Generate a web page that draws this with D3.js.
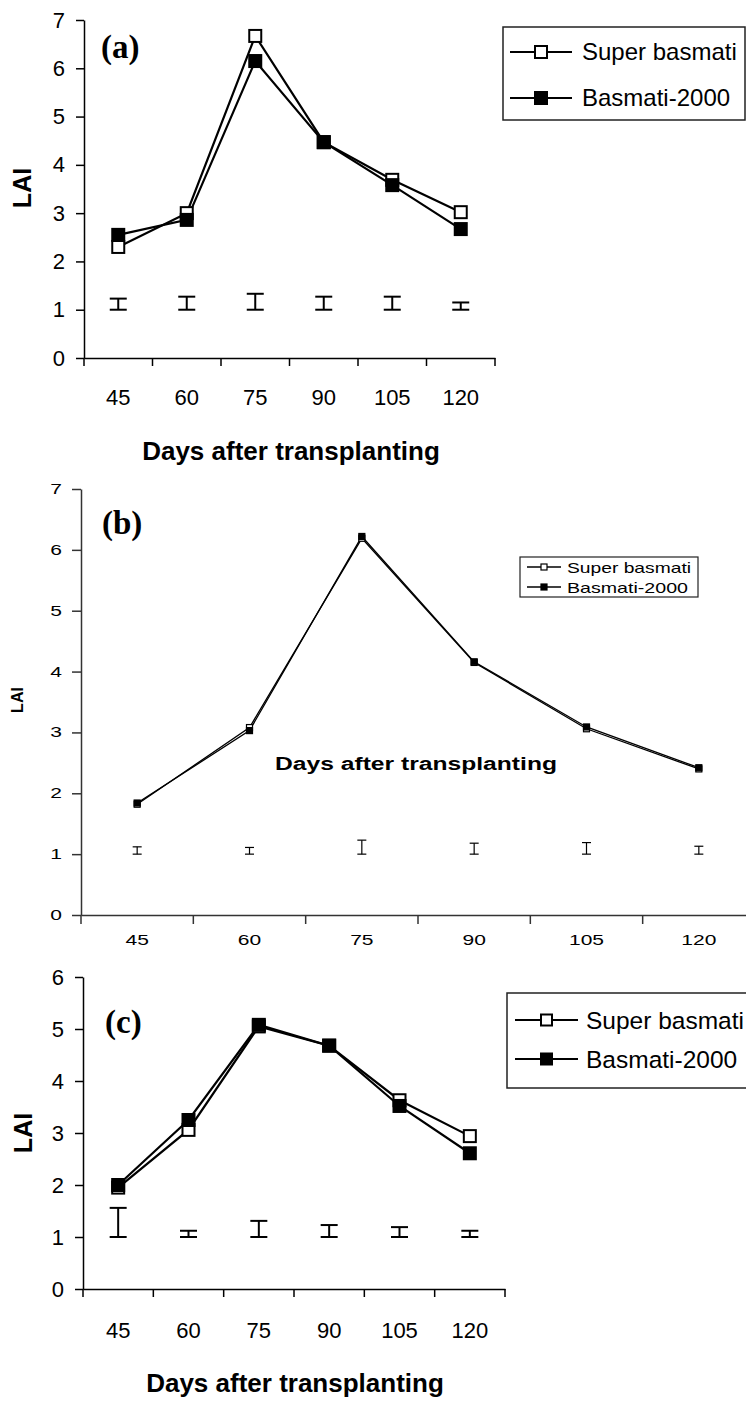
<!DOCTYPE html>
<html><head><meta charset="utf-8">
<script src="https://cdn.jsdelivr.net/npm/d3@7"></script>
<style>body{margin:0;background:#fff}svg{display:block}</style>
</head><body>
<svg id="chart" width="746" height="1402"></svg>
<script>
const days = ["45","60","75","90","105","120"];
const seriesNames = ["Super basmati","Basmati-2000"];
// Panel (a)
const aSuper = [2.30, 3.00, 6.67, 4.47, 3.69, 3.02];
const aB2000 = [2.55, 2.86, 6.15, 4.47, 3.58, 2.67];
const aLSD   = [0.23, 0.27, 0.33, 0.27, 0.27, 0.15];
const aTicks = [0,1,2,3,4,5,6,7];
// Panel (b)
const bSuper = [1.82, 3.08, 6.19, 4.15, 3.06, 2.40];
const bB2000 = [1.84, 3.03, 6.22, 4.16, 3.09, 2.42];
const bLSD   = [0.12, 0.11, 0.23, 0.18, 0.19, 0.13];
const bTicks = [0,1,2,3,4,5,6,7];
// Panel (c)
const cSuper = [1.95, 3.06, 5.05, 4.68, 3.63, 2.94];
const cB2000 = [2.00, 3.25, 5.08, 4.68, 3.52, 2.61];
const cLSD   = [0.56, 0.12, 0.31, 0.23, 0.19, 0.12];
const cTicks = [0,1,2,3,4,5,6];
const panelLabels = ["(a)","(b)","(c)"];
const xTitle = "Days after transplanting";
const yTitle = "LAI";

const svg = d3.select("#chart");
const SANS = "'Liberation Sans', Arial, sans-serif";
const SERIF = "'Liberation Serif', 'Times New Roman', serif";

function stretch(sel, k){
  sel.each(function(){
    const w = this.getComputedTextLength();
    d3.select(this).attr("textLength", w*k).attr("lengthAdjust","spacingAndGlyphs");
  });
}

function panel(cfg){
  const g = svg.append("g");
  const x = d3.scaleBand().domain(days).range([cfg.x0, cfg.x1]).padding(0);
  const y = d3.scaleLinear().domain([0, cfg.ymax]).range([cfg.y0, cfg.y1]);
  const bw = x.bandwidth();
  const cx = d => x(d) + bw/2;

  // y axis
  const ya = g.append("g").attr("transform", `translate(${cfg.x0},0)`)
    .call(d3.axisLeft(y).tickValues(cfg.ticks).tickFormat(d3.format("d")).tickSize(cfg.tick).tickSizeOuter(0).tickPadding(cfg.ypad));
  ya.select(".domain").attr("stroke", cfg.axisColor).attr("stroke-width", cfg.axisW);
  ya.selectAll(".tick line").attr("stroke", cfg.axisColor).attr("stroke-width", cfg.axisW);
  const yt = ya.selectAll(".tick text").attr("font-family", SANS).attr("font-size", cfg.tickFont).attr("fill","#000");
  if (cfg.stretchTick) stretch(yt, cfg.stretchTick);

  // x axis line + boundary ticks
  const xa = g.append("g").attr("transform", `translate(0,${cfg.y0})`)
    .call(d3.axisBottom(x).tickSize(0).tickSizeOuter(0).tickPadding(0));
  xa.select(".domain").attr("stroke", cfg.axisColor).attr("stroke-width", cfg.axisW);
  const xt = xa.selectAll(".tick text").attr("font-family", SANS).attr("font-size", cfg.tickFont)
    .attr("fill","#000").attr("y", cfg.xLabelDy).attr("dy", 0);
  if (cfg.stretchTick) stretch(xt, cfg.stretchTick);
  const bounds = days.map(d => x(d)).concat([cfg.x1]);
  g.selectAll(".bt").data(bounds).join("line")
    .attr("x1", d => d).attr("x2", d => d)
    .attr("y1", cfg.y0).attr("y2", cfg.y0 + cfg.tick)
    .attr("stroke", cfg.axisColor).attr("stroke-width", cfg.axisW);

  // LSD bars
  const eb = g.append("g").attr("stroke","#000").attr("stroke-width", cfg.ebW).attr("fill","none");
  cfg.lsd.forEach((v,i) => {
    const xc = cx(days[i]), yb = y(1), ytp = y(1+v);
    eb.append("line").attr("x1", xc).attr("x2", xc).attr("y1", yb).attr("y2", ytp);
    eb.append("line").attr("x1", xc-cfg.cap/2).attr("x2", xc+cfg.cap/2).attr("y1", yb).attr("y2", yb);
    eb.append("line").attr("x1", xc-cfg.cap/2).attr("x2", xc+cfg.cap/2).attr("y1", ytp).attr("y2", ytp);
  });

  // series
  const series = [{vals: cfg.sup, fill:"#fff"}, {vals: cfg.b2k, fill:"#000"}];
  const line = d3.line().x((d,i) => cx(days[i])).y(d => y(d));
  series.forEach(s => {
    g.append("path").datum(s.vals).attr("d", line).attr("fill","none")
      .attr("stroke","#000").attr("stroke-width", cfg.lineW).attr("stroke-linejoin","miter");
  });
  series.forEach(s => {
    g.selectAll(null).data(s.vals).join("rect")
      .attr("x", (d,i) => cx(days[i]) - cfg.mk/2).attr("y", d => y(d) - cfg.mk/2)
      .attr("width", cfg.mk).attr("height", cfg.mk)
      .attr("fill", s.fill).attr("stroke","#000").attr("stroke-width", cfg.mkW);
  });

  // panel label
  g.append("text").attr("x", cfg.lab[0]).attr("y", cfg.lab[1]).text(cfg.label)
    .attr("font-family", SERIF).attr("font-weight","bold").attr("font-size", 33);

  // y title
  const yl = g.append("text").attr("transform", `translate(${cfg.yTitle[0]},${cfg.yTitle[1]}) rotate(-90)`)
    .attr("text-anchor","middle").attr("dominant-baseline","central")
    .attr("font-family", SANS).attr("font-weight","bold").attr("font-size", cfg.yTitleFont).text(yTitle);

  // x title
  const xtt = g.append("text").attr("x", cfg.xTitle[0]).attr("y", cfg.xTitle[1]).attr("text-anchor","middle")
    .attr("font-family", SANS).attr("font-weight","bold").attr("font-size", cfg.xTitleFont).text(xTitle);
  if (cfg.xTitleLen) xtt.attr("textLength", cfg.xTitleLen).attr("lengthAdjust","spacingAndGlyphs");

  // legend
  const L = cfg.leg;
  g.append("rect").attr("x", L.x).attr("y", L.y).attr("width", L.w).attr("height", L.h)
    .attr("fill","#fff").attr("stroke","#222").attr("stroke-width", L.bw);
  series.forEach((s,i) => {
    const ry = L.rows[i];
    g.append("line").attr("x1", L.l0).attr("x2", L.l1).attr("y1", ry).attr("y2", ry)
      .attr("stroke","#000").attr("stroke-width", cfg.lineW);
    g.append("rect").attr("x", (L.l0+L.l1)/2 - L.mk/2).attr("y", ry - L.mk/2)
      .attr("width", L.mk).attr("height", L.mk).attr("fill", s.fill).attr("stroke","#000").attr("stroke-width", cfg.mkW);
    const t = g.append("text").attr("x", L.tx).attr("y", ry + L.base).text(seriesNames[i])
      .attr("font-family", SANS).attr("font-size", L.font);
    if (L.lens) t.attr("textLength", L.lens[i]).attr("lengthAdjust","spacingAndGlyphs");
  });
}

panel({x0:84, x1:495, y0:358, y1:20, ymax:7, ticks:aTicks, tick:8, ypad:11, tickFont:22, xLabelDy:47,
  axisColor:"#000", axisW:1.5, ebW:2, cap:17, lineW:2.2, mk:12, mkW:2,
  sup:aSuper, b2k:aB2000, lsd:aLSD, label:panelLabels[0], lab:[101,58],
  yTitle:[22,188], yTitleFont:25, xTitle:[291,460], xTitleFont:26,
  leg:{x:503, y:27, w:242, h:93, bw:1.5, rows:[52,98], l0:510, l1:572, mk:12, tx:582, base:8, font:24}});

panel({x0:81, x1:755, y0:915, y1:489, ymax:7, ticks:bTicks, tick:9, ypad:10, tickFont:14, xLabelDy:30, stretchTick:1.5,
  axisColor:"#333", axisW:1.5, ebW:1.2, cap:9, lineW:1.3, mk:6, mkW:1.2,
  sup:bSuper, b2k:bB2000, lsd:bLSD, label:panelLabels[1], lab:[102,534],
  yTitle:[17,700], yTitleFont:16, xTitle:[416,770], xTitleFont:18, xTitleLen:282,
  leg:{x:520, y:557, w:178, h:40, bw:1.2, rows:[567,587], l0:527, l1:561, mk:6, tx:567, base:5.5, font:15, lens:[124,121]}});

panel({x0:83, x1:505, y0:1289, y1:977, ymax:6, ticks:cTicks, tick:8, ypad:11, tickFont:22, xLabelDy:49,
  axisColor:"#000", axisW:1.5, ebW:2, cap:17, lineW:2.2, mk:12, mkW:2,
  sup:cSuper, b2k:cB2000, lsd:cLSD, label:panelLabels[2], lab:[105,1033],
  yTitle:[23,1133], yTitleFont:25, xTitle:[295,1392], xTitleFont:26,
  leg:{x:507, y:993, w:250, h:95, bw:1.5, rows:[1020,1059], l0:515, l1:578, mk:11, tx:586, base:8.5, font:24.5}});
</script>
</body></html>
